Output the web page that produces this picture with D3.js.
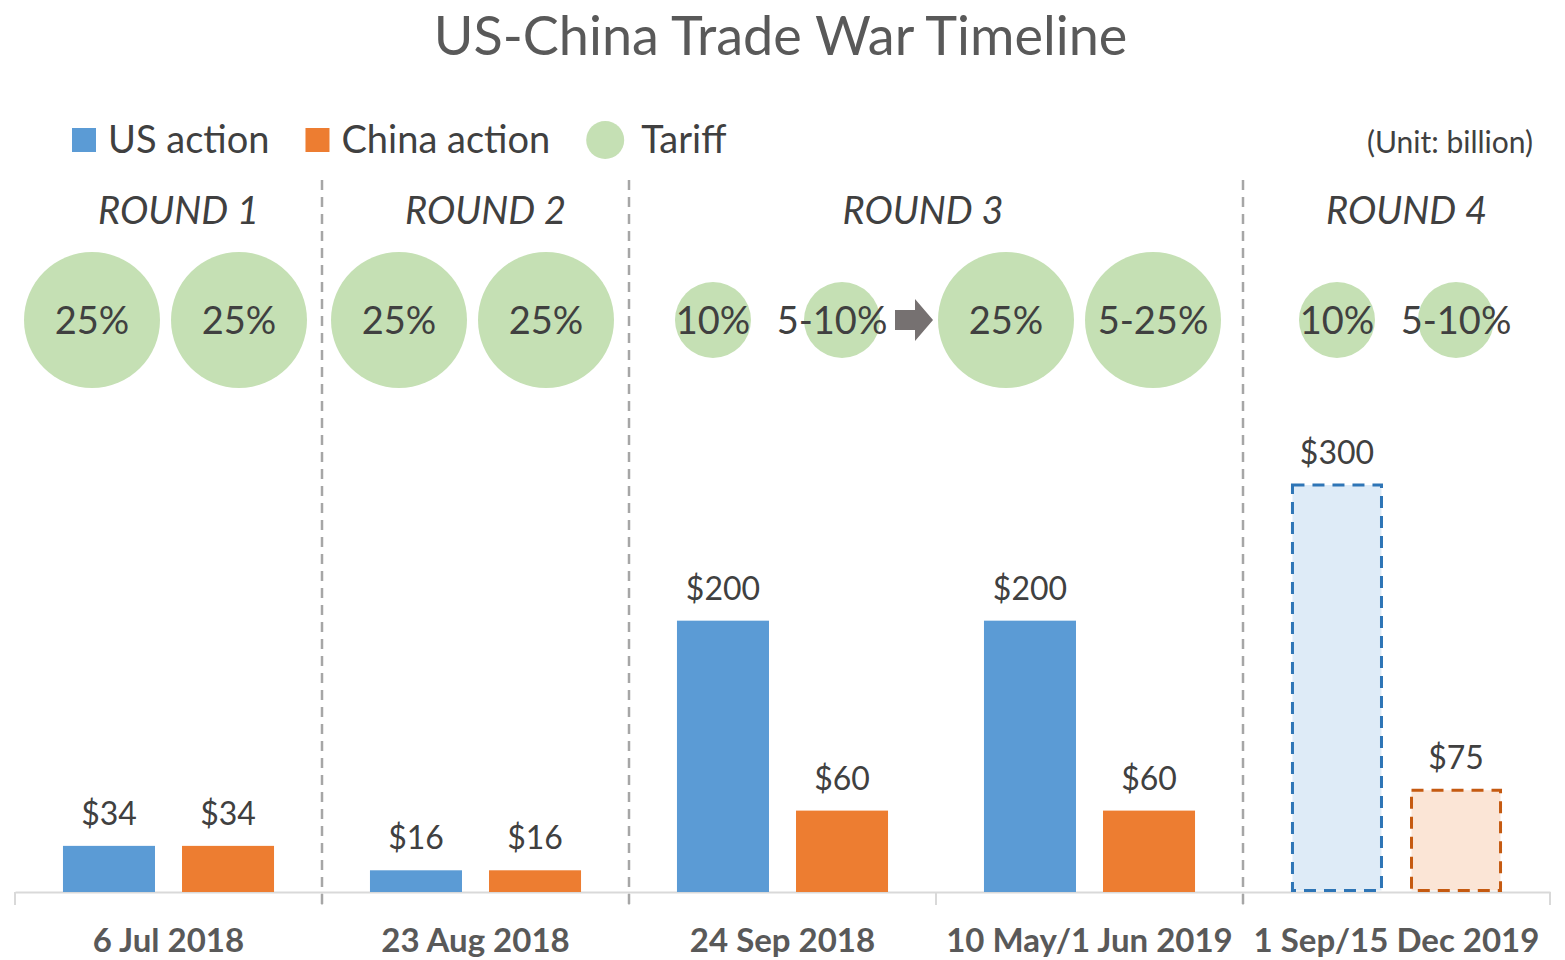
<!DOCTYPE html>
<html>
<head>
<meta charset="utf-8">
<script src="https://cdn.jsdelivr.net/npm/d3@7"></script>
<style>
  body { margin: 0; background: #fff; }
  svg { font-family: Lato, "Open Sans", sans-serif; }
</style>
</head>
<body>
<div id="chart"></div>
<script>
// data
const categories = ["6 Jul 2018", "23 Aug 2018", "24 Sep 2018", "10 May/1 Jun 2019", "1 Sep/15 Dec 2019"];
const usValues = [34, 16, 200, 200, 300];
const chinaValues = [34, 16, 60, 60, 75];
const planned = [false, false, false, false, true];   // round 4 not yet in force
const seriesNames = ["US action", "China action"];
const roundNames = ["ROUND 1", "ROUND 2", "ROUND 3", "ROUND 4"];
const roundSpans = [[0, 0], [1, 1], [2, 3], [4, 4]];  // first/last category of each round
const usTariffs = ["25%", "25%", "10%", "25%", "10%"];
const chinaTariffs = ["25%", "25%", "5-10%", "5-25%", "5-10%"];

const width = 1565, height = 960;
const margin = {top: 180, right: 15, bottom: 68, left: 15};
const baseY = height - margin.bottom;

const svg = d3.select("#chart")
              .append("svg")
              .attr("width", width)
              .attr("height", height);

const textColor = "#404040";
const colors = {"US action": "#5b9bd5", "China action": "#ed7d31"};
const plannedFill = {"US action": "#deebf7", "China action": "#fbe5d6"};
const plannedStroke = {"US action": "#2e75b6", "China action": "#c55a11"};

const rows = categories.map((c, i) => ({
    cat: c, i: i, planned: planned[i],
    values: [
        {key: "US action", value: usValues[i], tariff: usTariffs[i]},
        {key: "China action", value: chinaValues[i], tariff: chinaTariffs[i]}
    ]
}));

// scales
const x0 = d3.scaleBand()
             .domain(categories)
             .range([margin.left, width - margin.right])
             .padding(0);

const x1 = d3.scaleBand()
             .domain(seriesNames)
             .range([0, x0.bandwidth()])
             .paddingInner(0.227)
             .paddingOuter(0.403);

const y = d3.scaleLinear()
            .domain([0, 300])
            .range([baseY, baseY - 407]);

// tariff rate -> bubble radius (upper end of a range like 5-25%)
const rateOf = t => +t.replace("%", "").split("-").pop();
const r = d3.scaleLinear().domain([10, 25]).range([38, 68]);

// title
svg.append("text")
   .attr("x", width / 2 - 2)
   .attr("y", 55)
   .attr("text-anchor", "middle")
   .attr("fill", "#595959")
   .attr("font-size", "54px")
   .text("US-China Trade War Timeline");

// legend
const legend = svg.append("g").attr("transform", "translate(72,140)");
let lx = 0;
seriesNames.forEach(name => {
    legend.append("rect")
          .attr("x", lx).attr("y", -12)
          .attr("width", 24).attr("height", 24)
          .attr("fill", colors[name]);
    const t = legend.append("text")
          .attr("x", lx + 36).attr("y", 13)
          .attr("fill", textColor)
          .attr("font-size", "38px")
          .text(name);
    lx += 36 + t.node().getComputedTextLength() + 36;
});
legend.append("circle")
      .attr("cx", lx + 19).attr("cy", 0).attr("r", 19)
      .attr("fill", "#c5e0b4");
legend.append("text")
      .attr("x", lx + 55).attr("y", 13)
      .attr("fill", textColor)
      .attr("font-size", "38px")
      .text("Tariff");

svg.append("text")
   .attr("x", width - 32)
   .attr("y", 153)
   .attr("text-anchor", "end")
   .attr("fill", textColor)
   .attr("font-size", "30px")
   .text("(Unit: billion)");

// x axis
svg.append("g")
   .attr("transform", `translate(0,${baseY})`)
   .call(d3.axisBottom(x0).tickValues([]).tickSizeOuter(0))
   .call(g => g.select(".domain").attr("stroke", "#d9d9d9").attr("stroke-width", 2));

const bounds = categories.map(c => x0(c)).concat([x0.range()[1]]);
svg.append("g")
   .selectAll("line")
   .data(bounds)
   .join("line")
   .attr("x1", d => d).attr("x2", d => d)
   .attr("y1", baseY).attr("y2", baseY + 13)
   .attr("stroke", "#d9d9d9").attr("stroke-width", 2);

svg.append("g")
   .selectAll("text")
   .data(categories)
   .join("text")
   .attr("x", d => x0(d) + x0.bandwidth() / 2)
   .attr("y", baseY + 60)
   .attr("text-anchor", "middle")
   .attr("fill", "#595959")
   .attr("font-size", "33px")
   .attr("font-weight", "bold")
   .text(d => d);

// round separators + labels
const roundX = roundSpans.map(s => [x0(categories[s[0]]), x0(categories[s[1]]) + x0.bandwidth()]);
svg.append("g")
   .selectAll("line")
   .data(roundX.slice(1))
   .join("line")
   .attr("x1", d => d[0]).attr("x2", d => d[0])
   .attr("y1", margin.top).attr("y2", baseY + 13)
   .attr("stroke", "#a6a6a6")
   .attr("stroke-width", 2.5)
   .attr("stroke-dasharray", "10,7");

svg.append("g")
   .selectAll("text")
   .data(roundNames)
   .join("text")
   .attr("x", (d, i) => (roundX[i][0] + roundX[i][1]) / 2 + (roundSpans[i][0] === roundSpans[i][1] ? 10 : -13))
   .attr("y", 224)
   .attr("text-anchor", "middle")
   .attr("fill", textColor)
   .attr("font-size", "38px")
   .attr("font-style", "italic")
   .text(d => d);

// tariff bubbles: sit over the bars, pushed apart when they would overlap
const bubbleY = 320;
const bubbles = [];
rows.forEach(row => {
    const cx = row.values.map(v => x0(row.cat) + x1(v.key) + x1.bandwidth() / 2);
    const rr = row.values.map(v => r(rateOf(v.tariff)));
    const need = rr[0] + rr[1] + 11;
    const mid = (cx[0] + cx[1]) / 2 - 3;
    if (cx[1] - cx[0] < need) { cx[0] = mid - need / 2; cx[1] = mid + need / 2; }
    row.values.forEach((v, j) => bubbles.push({label: v.tariff, cx: cx[j], r: rr[j], dx: 0}));
});
// round 3: first US bubble sits a bit left, and the label before the arrow is nudged left
bubbles[4].cx -= 10;
bubbles[5].dx = -10;
bubbles[6].cx -= 7;
bubbles[7].cx -= 7;

const bub = svg.append("g")
   .selectAll("g")
   .data(bubbles)
   .join("g")
   .attr("transform", d => `translate(${d.cx},${bubbleY})`);
bub.append("circle")
   .attr("r", d => d.r)
   .attr("fill", "#c5e0b4");
bub.append("text")
   .attr("x", d => d.dx)
   .attr("text-anchor", "middle")
   .attr("dy", "0.36em")
   .attr("fill", textColor)
   .attr("font-size", "38px")
   .text(d => d.label);

// escalation arrow inside round 3 (between 3rd and 4th dates)
const a0 = bubbles[5].cx + bubbles[5].r, a1 = bubbles[6].cx - bubbles[6].r;
const am = (a0 + a1) / 2 + 5;
svg.append("path")
   .attr("d", `M${am - 19},${bubbleY - 10} L${am + 1},${bubbleY - 10} L${am + 1},${bubbleY - 21} L${am + 19},${bubbleY} L${am + 1},${bubbleY + 21} L${am + 1},${bubbleY + 10} L${am - 19},${bubbleY + 10} Z`)
   .attr("fill", "#767171");

// bars
const groups = svg.append("g")
   .selectAll("g")
   .data(rows)
   .join("g")
   .attr("transform", d => `translate(${x0(d.cat)},0)`);

groups.selectAll("rect")
   .data(d => d.values.map(v => Object.assign({planned: d.planned}, v)))
   .join("rect")
   .attr("x", d => x1(d.key) + (d.planned ? 1.5 : 0))
   .attr("y", d => y(d.value))
   .attr("width", d => x1.bandwidth() - (d.planned ? 3 : 0))
   .attr("height", d => baseY - y(d.value) - (d.planned ? 1.5 : 0))
   .attr("fill", d => d.planned ? plannedFill[d.key] : colors[d.key])
   .attr("stroke", d => d.planned ? plannedStroke[d.key] : "none")
   .attr("stroke-width", 3)
   .attr("stroke-dasharray", "12,8");

groups.selectAll("text")
   .data(d => d.values)
   .join("text")
   .attr("x", d => x1(d.key) + x1.bandwidth() / 2)
   .attr("y", d => y(d.value) - 21)
   .attr("text-anchor", "middle")
   .attr("fill", textColor)
   .attr("font-size", "32px")
   .text(d => "$" + d.value);
</script>
</body>
</html>
